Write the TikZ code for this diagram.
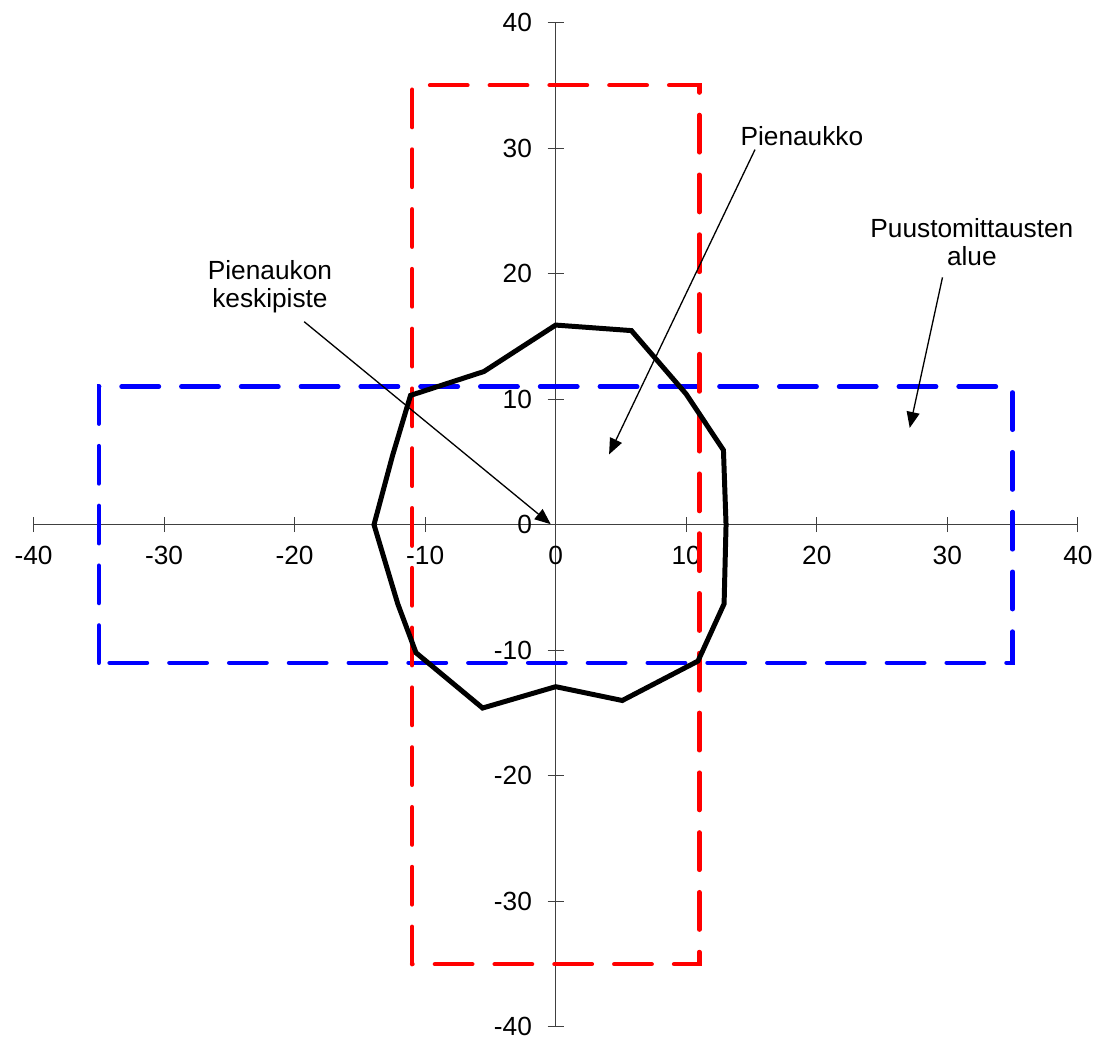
\documentclass[tikz,border=0pt]{standalone}
\usepackage{fontspec}
\setmainfont{Liberation Sans}
\usetikzlibrary{arrows.meta,positioning}
\definecolor{areablue}{RGB}{0,0,255}
\definecolor{areared}{RGB}{255,0,0}

\begin{document}
\begin{tikzpicture}[x=0.262cm, y=0.252cm,
    axisline/.style={line width=0.6pt, black!75},
    ticklabel/.style={font=\fontsize{15}{16}\selectfont, inner sep=0pt},
    callout/.style={font=\fontsize{15}{16}\selectfont, align=center, inner sep=0pt},
    pointer/.style={line width=0.75pt, -{Triangle[length=3.2mm,width=2.6mm]}},
    plotarea/.style={line width=0.09cm, line cap=round, dash pattern=on 0.75cm off 0.45cm}]
    \useasboundingbox (-42.57,-41.05) rectangle (41.62,41.79);

    % Axes
    \draw[axisline] (-40,0) -- (40,0);
    \draw[axisline] (0,-40) -- (0,40);
    \foreach \v in {-40,-30,...,40} {
        \draw[axisline] (\v,0) ++(0,-0.15cm) -- ++(0,0.3cm);
        \draw[axisline] (0,\v) ++(-0.16cm,0) -- ++(0.32cm,0);
        \node[ticklabel] (xtick\v) at ([yshift=-0.62cm]\v,0) {\v};
        \node[ticklabel, anchor=east] (ytick\v) at ([xshift=-0.47cm]0,\v) {\v};
    }

    % Measurement areas
    \draw[plotarea, areablue] (-35,-11) rectangle (35,11);
    \draw[plotarea, areared] (-11,-35) rectangle (11,35);

    % Gap outline
    \draw[line width=0.1cm] (0,15.9) -- (5.8,15.46) -- (10,10.4) -- (12.85,5.94)
        -- (13.05,0) -- (12.9,-6.3) -- (10.9,-10.86) -- (5.1,-14.0) -- (0,-12.9)
        -- (-5.6,-14.6) -- (-10.7,-10.2) -- (-12.1,-6.3) -- (-13.92,0)
        -- (-12.5,5.5) -- (-11.12,10.3) -- (-5.5,12.2) -- cycle;

    % Labels
    \node[callout] (gap) at (18.86,30.94) {Pienaukko};
    \node[callout] (area) at (31.88,22.54) {Puustomittausten\\alue};
    \node[callout] (centre) at (-21.89,18.94) {Pienaukon\\keskipiste};

    % Pointers
    \coordinate (gapfrom) at (15.27,29.88);
    \coordinate (gapto) at (4.09,5.6);
    \coordinate (areafrom) at (29.63,19.7);
    \coordinate (areato) at (27.12,7.71);
    \coordinate (centrefrom) at (-19.27,16.17);
    \coordinate (centreto) at (-0.38,0.04);
    \draw[pointer] (gapfrom) -- (gapto);
    \draw[pointer] (areafrom) -- (areato);
    \draw[pointer] (centrefrom) -- (centreto);
\end{tikzpicture}
\end{document}
